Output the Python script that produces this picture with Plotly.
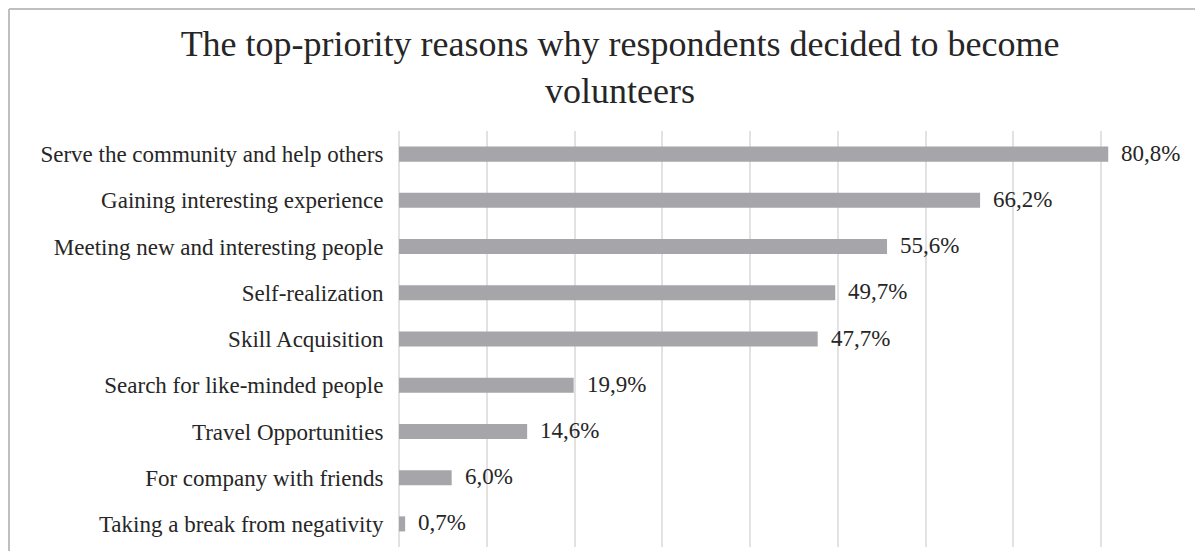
import plotly.graph_objects as go

categories = [
    "Serve the community and help others",
    "Gaining interesting experience",
    "Meeting new and interesting people",
    "Self-realization",
    "Skill Acquisition",
    "Search for like-minded people",
    "Travel Opportunities",
    "For company with friends",
    "Taking a break from negativity",
]
values = [80.8, 66.2, 55.6, 49.7, 47.7, 19.9, 14.6, 6.0, 0.7]
labels = [f"{v:.1f}".replace(".", ",") + "%" for v in values]
tick_vals = [0, 10, 20, 30, 40, 50, 60, 70, 80, 90]

# page body has an 8px margin; figure is sized/positioned to compensate
W, H = 1195, 543
L, R, T, B = 391, 14, 123, 4
TEXT = "#262626"
FONT = "Liberation Serif, Times New Roman, serif"
PW, PH = W - L - R, H - T - B

fig = go.Figure()
fig.add_trace(go.Bar(
    x=values, y=categories, orientation="h",
    marker=dict(color="#A6A6AA", line=dict(width=0)),
    hoverinfo="x+y",
))

for v, c, t in zip(values, categories, labels):
    fig.add_annotation(x=v, y=c, text=t, showarrow=False, xanchor="left",
                       xshift=11, yshift=1, font=dict(size=23, color=TEXT, family=FONT))

fig.update_layout(
    width=W, height=H,
    margin=dict(l=L, r=R, t=T, b=B),
    paper_bgcolor="white", plot_bgcolor="white",
    bargap=0.674,
    showlegend=False,
    title=dict(
        text="The top-priority reasons why respondents decided to become<br>volunteers",
        x=612 / W, xref="container", xanchor="center",
        y=1 - 48 / H, yref="container", yanchor="top",
        font=dict(size=36, color=TEXT, family=FONT),
    ),
    xaxis=dict(range=[0, 90], tickvals=tick_vals, showticklabels=False,
               showgrid=True, gridcolor="#E2E2E2", gridwidth=1.5,
               zeroline=True, zerolinecolor="#E2E2E2", zerolinewidth=1.5,
               showline=False, fixedrange=True),
    yaxis=dict(autorange="reversed", showgrid=False, zeroline=False, showline=False,
               ticks="outside", ticklen=10, tickcolor="rgba(0,0,0,0)",
               tickfont=dict(size=23, color=TEXT, family=FONT)),
    shapes=[
        dict(type="line", xref="paper", yref="paper",
             x0=-(L - 1) / PW, x1=(W - L + 20) / PW,
             y0=1 + (T - 1) / PH, y1=1 + (T - 1) / PH,
             line=dict(color="#BFBFBF", width=2)),
        dict(type="line", xref="paper", yref="paper",
             x0=-(L - 1) / PW, x1=-(L - 1) / PW,
             y0=1 + (T - 1) / PH, y1=-(B + 20) / PH,
             line=dict(color="#BFBFBF", width=2)),
    ],
)

fig.write_html("out.html")
